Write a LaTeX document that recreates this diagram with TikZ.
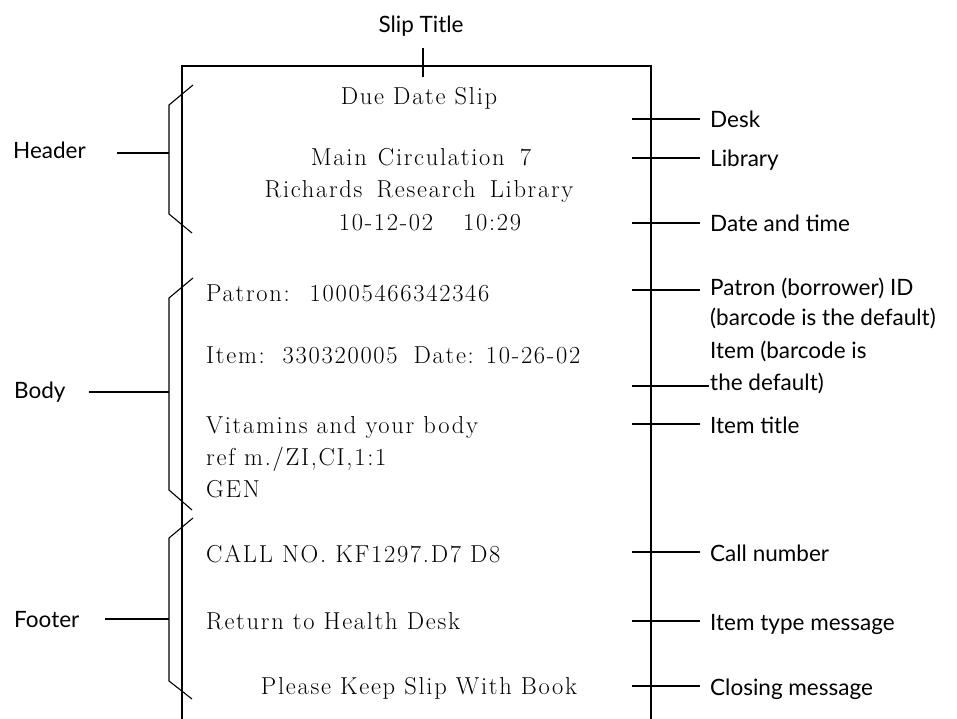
\documentclass[tikz,border=0pt]{standalone}
\usepackage{fontspec}
\setmainfont{Latin Modern Roman}[LetterSpace=7]
\newfontfamily\lblfont{Lato}
\begin{document}
\begin{tikzpicture}[x=1pt,y=-1pt,
  ln/.style={line width=1.1pt},
  slip/.style={font=\fontsize{24.5}{28}\selectfont, inner sep=0pt, anchor=base},
  slipl/.style={slip, anchor=base west},
  lbl/.style={font=\lblfont\fontsize{22.5}{30}\selectfont, inner sep=0pt, anchor=base west},
  sect/.style={font=\lblfont\fontsize{22.5}{26}\selectfont, inner sep=0pt, anchor=base west}]
\useasboundingbox (0,0) rectangle (957,719);
% slip outline
\coordinate (bl) at (182,719);
\coordinate (tl) at (182,66);
\coordinate (tr) at (651,66);
\coordinate (br) at (651,719);
\draw[ln] (bl) -- (tl) -- (tr) -- (br);
% slip title
\node[font=\lblfont\fontsize{22.5}{26}\selectfont, inner sep=0pt, anchor=base] (title) at (421,33) {Slip Title};
\coordinate (tt1) at (423,48);
\coordinate (tt2) at (423,77);
\draw[ln] (tt1) -- (tt2);
% slip content
\node[slip] (due) at (419,105) {Due Date Slip};
\node[slip] (main) at (421,166) {Main\hspace{2pt} Circulation\hspace{6pt} 7};
\node[slip] (rich) at (419,198) {Richards\hspace{5pt} Research\hspace{5pt} Library};
\node[slip] (dt) at (430,230) {10-12-02\hspace{30pt}10:29};
\node[slipl] (patron) at (206,301) {Patron:\hspace{20pt}10005466342346};
\node[slipl] (item) at (206,363) {Item:\hspace{18pt}330320005\hspace{16pt}Date: 10-26-02};
\node[slipl] (vit) at (206,433) {Vitamins and your body};
\node[slipl] (ref) at (206,465) {ref m./ZI,CI,1:1};
\node[slipl] (gen) at (206,497) {GEN};
\node[slipl] (call) at (206,562) {CALL NO. KF1297.D7 D8};
\node[slipl] (ret) at (206,629) {Return to Health Desk};
\node[slip] (please) at (419,694) {Please Keep Slip With Book};
% right labels
\foreach \n/\y/\t in {desk/119/Desk, lib/158/Library, dat/223/Date and time,
   cn/552/Call number, itm/621/Item type message, cls/686/Closing message, ititle/424/Item title}{
  \node[lbl] (\n) at (710,\y+9) {\t};
  \coordinate (\n a) at (632,\y);
  \coordinate (\n b) at (700,\y);
  \draw[ln] (\n a) -- (\n b);
}
\node[lbl] (pat1) at (710,295) {Patron (borrower) ID};
\node[lbl] (pat2) at (710,325) {(barcode is the default)};
\coordinate (pata) at (632,290);
\coordinate (patb) at (700,290);
\draw[ln] (pata) -- (patb);
\node[lbl] (itb1) at (710,358) {Item (barcode is};
\node[lbl] (itb2) at (710,390) {the default)};
\coordinate (itba) at (632,386);
\coordinate (itbb) at (709,386);
\draw[ln] (itba) -- (itbb);
% left braces
\node[sect] (hdr) at (13,159) {Header};
\node[sect] (bdy) at (14,398) {Body};
\node[sect] (ftr) at (14,627) {Footer};
\coordinate (h1) at (193,85); \coordinate (h2) at (169,105);
\coordinate (h3) at (169,214); \coordinate (h4) at (192,233);
\coordinate (hm) at (169,153); \coordinate (hs) at (117,153);
\draw[ln] (h1) -- (h2) -- (h3) -- (h4);
\draw[ln] (hs) -- (hm);
\coordinate (b1) at (193,278); \coordinate (b2) at (169,298);
\coordinate (b3) at (169,490); \coordinate (b4) at (192,510);
\coordinate (bm) at (169,392); \coordinate (bs) at (89,392);
\draw[ln] (b1) -- (b2) -- (b3) -- (b4);
\draw[ln] (bs) -- (bm);
\coordinate (f1) at (193,518); \coordinate (f2) at (169,538);
\coordinate (f3) at (169,681); \coordinate (f4) at (192,699);
\coordinate (fm) at (169,619); \coordinate (fs) at (105,619);
\draw[ln] (f1) -- (f2) -- (f3) -- (f4);
\draw[ln] (fs) -- (fm);
\end{tikzpicture}
\end{document}
